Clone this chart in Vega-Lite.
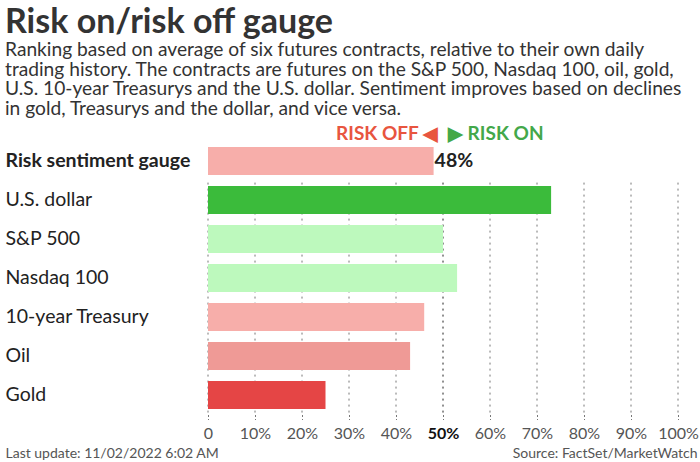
{
  "$schema": "https://vega.github.io/schema/vega-lite/v6.json",
  "autosize": {"type": "none"},
  "width": 470,
  "height": 273,
  "padding": {"left": 208, "top": 141.5, "right": 22, "bottom": 47.5},
  "background": "white",
  "config": {"view": {"stroke": null}, "font": "Lato"},
  "title": {
    "text": "Risk on/risk off gauge",
    "subtitle": [
      "Ranking based on average of six futures contracts, relative to their own daily",
      "trading history. The contracts are futures on the S&P 500, Nasdaq 100, oil, gold,",
      "U.S. 10-year Treasurys and the U.S. dollar. Sentiment improves based on declines",
      "in gold, Treasurys and the dollar, and vice versa."
    ],
    "anchor": "start",
    "frame": "group",
    "dx": -203,
    "offset": 6,
    "font": "Lato",
    "fontSize": 34,
    "fontWeight": "bold",
    "color": "#333333",
    "subtitleFont": "Lato",
    "subtitleFontSize": 19.2,
    "subtitleLineHeight": 19.6,
    "subtitleColor": "#333333",
    "subtitlePadding": 1
  },
  "datasets": {
    "rows": [
      {"name": "Risk sentiment gauge", "value": 48},
      {"name": "U.S. dollar", "value": 73},
      {"name": "S&P 500", "value": 50},
      {"name": "Nasdaq 100", "value": 53},
      {"name": "10-year Treasury", "value": 46},
      {"name": "Oil", "value": 43},
      {"name": "Gold", "value": 25}
    ],
    "ticks": [
      {"t": 0}, {"t": 10}, {"t": 20}, {"t": 30}, {"t": 40}, {"t": 50},
      {"t": 60}, {"t": 70}, {"t": 80}, {"t": 90}, {"t": 100}
    ]
  },
  "layer": [
    {
      "data": {"name": "ticks"},
      "mark": {"type": "rule", "strokeDash": [2, 4], "strokeWidth": 1},
      "encoding": {
        "x": {"field": "t", "type": "quantitative"},
        "y": {"datum": "U.S. dollar", "type": "nominal", "bandPosition": -0.12},
        "y2": {"datum": "Gold", "bandPosition": 1.2},
        "color": {
          "condition": {"test": "datum.t == 50", "value": "#222222"},
          "value": "#777777"
        }
      }
    },
    {
      "data": {"name": "rows"},
      "mark": {"type": "bar"},
      "encoding": {
        "y": {
          "field": "name",
          "type": "nominal",
          "sort": null,
          "scale": {
            "domain": ["Risk sentiment gauge", "U.S. dollar", "S&P 500", "Nasdaq 100", "10-year Treasury", "Oil", "Gold"],
            "paddingInner": 0.28,
            "paddingOuter": 0.14
          },
          "axis": {
            "title": "Last update: 11/02/2022 6:02 AM",
            "titleAngle": 0,
            "titleAlign": "left",
            "titleBaseline": "alphabetic",
            "titleX": -203,
            "titleY": 316,
            "titleFont": "Lato",
            "titleFontSize": 14,
            "titleFontWeight": "normal",
            "titleColor": "#555555",
            "labelAlign": "left",
            "labelPadding": 203,
            "labelFont": "Lato",
            "labelFontSize": 19.5,
            "labelColor": "#222222",
            "labelFontWeight": {"expr": "datum.value == 'Risk sentiment gauge' ? 'bold' : 'normal'"},
            "labelLimit": 300,
            "ticks": false,
            "domain": false,
            "grid": false
          }
        },
        "x": {
          "field": "value",
          "type": "quantitative",
          "scale": {"domain": [0, 100]},
          "axis": {
            "values": [0, 10, 20, 30, 40, 50, 60, 70, 80, 90, 100],
            "labelExpr": "datum.value == 0 ? '0' : datum.value + '%'",
            "labelFont": "Lato",
            "labelFontSize": 16,
            "labelOverlap": false,
            "labelFlush": false,
            "labelColor": {"expr": "datum.value == 50 ? '#111111' : '#555555'"},
            "labelFontWeight": {"expr": "datum.value == 50 ? 'bold' : 'normal'"},
            "labelPadding": 6,
            "tickSize": 5,
            "tickDash": [2, 2],
            "tickColor": "#777777",
            "domain": false,
            "grid": false,
            "title": "Source: FactSet/MarketWatch",
            "titleAnchor": "end",
            "titleAlign": "right",
            "titleBaseline": "alphabetic",
            "titleX": 489,
            "titleY": 43,
            "titleFont": "Lato",
            "titleFontSize": 14,
            "titleFontWeight": "normal",
            "titleColor": "#555555"
          }
        },
        "color": {
          "field": "name",
          "type": "nominal",
          "legend": null,
          "scale": {
            "domain": ["Risk sentiment gauge", "U.S. dollar", "S&P 500", "Nasdaq 100", "10-year Treasury", "Oil", "Gold"],
            "range": ["#f7aeaa", "#3bbb3b", "#bdf9bd", "#bdf9bd", "#f7aeaa", "#ef9a96", "#e54545"]
          }
        }
      }
    },
    {
      "data": {"name": "rows"},
      "transform": [{"filter": "datum.name == 'Risk sentiment gauge'"}],
      "mark": {"type": "text", "align": "left", "baseline": "middle", "dx": 1, "font": "Lato", "fontSize": 19.5, "fontWeight": "bold", "color": "#222222", "text": {"expr": "datum.value + '%'"}},
      "encoding": {
        "y": {"field": "name", "type": "nominal"},
        "x": {"field": "value", "type": "quantitative"}
      }
    },
    {
      "data": {"values": [{"label": "RISK OFF \u25c0"}]},
      "mark": {"type": "text", "align": "right", "baseline": "alphabetic", "dx": -5, "dy": -7, "font": "Lato", "fontSize": 19, "fontWeight": "bold", "color": "#e8553f"},
      "encoding": {
        "x": {"datum": 50, "type": "quantitative"},
        "y": {"datum": "Risk sentiment gauge", "type": "nominal", "bandPosition": 0},
        "text": {"field": "label"}
      }
    },
    {
      "data": {"values": [{"label": "\u25b6 RISK ON"}]},
      "mark": {"type": "text", "align": "left", "baseline": "alphabetic", "dx": 5, "dy": -7, "font": "Lato", "fontSize": 19, "fontWeight": "bold", "color": "#43a84a"},
      "encoding": {
        "x": {"datum": 50, "type": "quantitative"},
        "y": {"datum": "Risk sentiment gauge", "type": "nominal", "bandPosition": 0},
        "text": {"field": "label"}
      }
    }
  ]
}
